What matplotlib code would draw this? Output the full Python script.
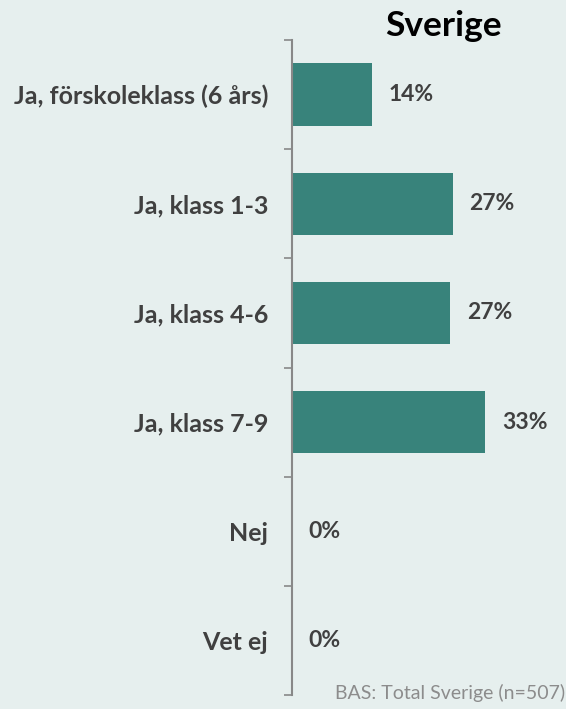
import numpy as np
import matplotlib.pyplot as plt

categories = ["Ja, förskoleklass (6 års)", "Ja, klass 1-3", "Ja, klass 4-6",
              "Ja, klass 7-9", "Nej", "Vet ej"]
values = [13.7, 27.5, 27.0, 33.0, 0.0, 0.0]
labels = ["14%", "27%", "27%", "33%", "0%", "0%"]

bg = "#e6efee"
bar_color = "#38837b"
text_color = "#404040"

plt.rcParams['font.family'] = ['Lato', 'DejaVu Sans']

fig = plt.figure(figsize=(5.66, 7.09), dpi=100, facecolor=bg)
ax = fig.add_axes([292 / 566, 14 / 709, 268 / 566, 655 / 709])
ax.set_facecolor(bg)

y = np.arange(len(categories))
ax.barh(y, values, height=0.57, color=bar_color)
ax.set_ylim(len(categories) - 0.5, -0.5)
ax.set_xlim(0, 45.8)

for yi, v, lab in zip(y, values, labels):
    ax.annotate(lab, (v, yi), xytext=(12, 0), textcoords="offset points",
                va="center", ha="left", fontsize=16.5, fontweight="bold",
                color=text_color)

ax.set_yticks(y)
ax.set_yticklabels(categories, fontsize=18, fontweight="bold", color=text_color)
ax.tick_params(axis="y", which="major", length=0, pad=17)
ax.set_yticks(np.arange(-0.5, len(categories)), minor=True)
ax.tick_params(axis="y", which="minor", length=6, width=1.2, color="#888888")
ax.set_xticks([])

for side in ["top", "right", "bottom"]:
    ax.spines[side].set_visible(False)
ax.spines["left"].set_color("#888888")
ax.spines["left"].set_linewidth(1.5)

fig.text(443 / 566, 1 - 26 / 709, "Sverige", ha="center", va="center",
         fontsize=25.5, fontweight="bold", color="black")
fig.text(0.999, 1 - 693 / 709, "BAS: Total Sverige (n=507)", ha="right",
         va="center", fontsize=14, color="#8c8c8c")

fig.savefig("out.png", dpi=100, facecolor=bg)
